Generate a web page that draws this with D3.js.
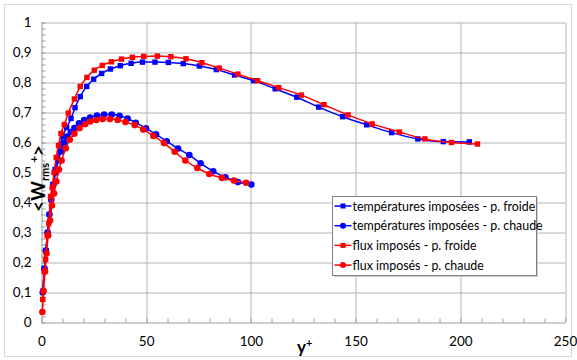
<!DOCTYPE html>
<html>
<head>
<meta charset="utf-8">
<script src="https://cdn.jsdelivr.net/npm/d3@7"></script>
<style>
  body { margin: 0; background: #fff; }
  text { font-family: Lato, "Open Sans", sans-serif; fill: #000; }
</style>
</head>
<body>
<div id="chart"></div>
<script>
// data: [y+, <Wrms+>]
const tempFroide = [[0.7,0.105],[1.4,0.18],[2.1,0.24],[2.9,0.30],[3.7,0.36],[4.6,0.41],[5.5,0.46],[6.5,0.51],[7.6,0.55],[8.8,0.59],[10.1,0.62],[12.0,0.65],[14.1,0.68],[16.0,0.716],[18.5,0.753],[21.6,0.787],[24.9,0.811],[28.7,0.830],[32.9,0.845],[37.6,0.856],[42.8,0.864],[48.2,0.868],[54.2,0.868],[60.6,0.867],[67.7,0.863],[75.4,0.855],[83.5,0.843],[92.2,0.825],[101.3,0.806],[111.6,0.779],[121.9,0.751],[132.4,0.718],[143.8,0.686],[155.3,0.659],[167.2,0.633],[179.7,0.612],[191.9,0.603],[204.3,0.602]];
const tempChaude = [[0.6,0.10],[1.4,0.18],[2.1,0.24],[2.9,0.30],[3.8,0.36],[4.7,0.41],[5.7,0.46],[6.8,0.50],[8.0,0.54],[9.3,0.57],[10.8,0.60],[12.3,0.62],[14.0,0.635],[15.7,0.648],[17.9,0.664],[20.4,0.675],[23.2,0.683],[26.5,0.690],[29.9,0.693],[33.6,0.693],[37.3,0.689],[41.1,0.680],[45.0,0.666],[49.9,0.647],[54.7,0.627],[59.8,0.604],[65.2,0.580],[70.6,0.558],[76.0,0.531],[82.0,0.504],[87.8,0.484],[93.8,0.468],[100.2,0.460]];
const fluxFroide = [[0.6,0.077],[1.3,0.17],[2.0,0.21],[2.7,0.29],[3.5,0.33],[4.3,0.42],[5.1,0.45],[6.0,0.50],[7.0,0.55],[8.1,0.59],[9.3,0.63],[10.9,0.66],[12.8,0.698],[15.7,0.745],[18.5,0.787],[21.7,0.817],[25.2,0.841],[29.0,0.857],[33.4,0.869],[38.2,0.878],[43.4,0.884],[48.8,0.887],[55.3,0.888],[61.8,0.886],[69.0,0.879],[76.6,0.866],[84.9,0.848],[93.8,0.828],[103.2,0.806],[113.3,0.783],[124.1,0.758],[134.9,0.726],[146.4,0.692],[157.9,0.662],[170.9,0.635],[183.1,0.612],[195.8,0.600],[208.2,0.595]];
const fluxChaude = [[0.4,0.035],[1.0,0.105],[1.7,0.17],[2.4,0.23],[3.2,0.29],[4.1,0.34],[5.0,0.39],[6.0,0.43],[7.1,0.47],[8.3,0.51],[9.6,0.54],[11.6,0.581],[13.5,0.609],[15.7,0.629],[18.2,0.648],[20.8,0.661],[23.3,0.670],[26.2,0.675],[29.2,0.678],[32.7,0.678],[36.4,0.675],[40.1,0.668],[44.5,0.658],[48.6,0.643],[53.4,0.622],[58.5,0.598],[63.6,0.569],[68.7,0.540],[74.4,0.515],[80.1,0.495],[86.2,0.482],[91.9,0.473],[97.7,0.466]];

const seriesNames = ["températures imposées - p. froide","températures imposées - p. chaude","flux imposés - p. froide","flux imposés - p. chaude"];
const seriesColors = ["#0000ff","#0000ff","#ff0000","#ff0000"];
const seriesMarkers = ["square","circle","square","circle"];
const seriesData = [tempFroide, tempChaude, fluxFroide, fluxChaude];

const xTicks = [0,50,100,150,200,250];
const yTicks = [0,0.1,0.2,0.3,0.4,0.5,0.6,0.7,0.8,0.9,1];

// dimensions
const W = 577, H = 360;
const margin = {top: 22.5, right: 12, bottom: 37.5, left: 41.5},
    width = W - margin.left - margin.right,
    height = H - margin.top - margin.bottom;

const svg0 = d3.select("#chart").append("svg")
    .attr("width", W).attr("height", H);

// outer chart border
svg0.append("rect").attr("x",4.5).attr("y",4.5).attr("width",W-10).attr("height",H-8)
  .attr("fill","none").attr("stroke","#d9d9d9");

const svg = svg0.append("g").attr("transform",`translate(${margin.left},${margin.top})`);

const x = d3.scaleLinear().domain([0,250]).range([0,width]);
const y = d3.scaleLinear().domain([0,1]).range([height,0]);

// grid
svg.append("g").selectAll("line").data(yTicks.slice(1)).join("line")
  .attr("x1",0).attr("x2",width)
  .attr("y1",d => Math.round(y(d))+0.5).attr("y2",d => Math.round(y(d))+0.5)
  .attr("stroke","#b4b4b4");
svg.append("g").selectAll("line").data(xTicks.slice(1)).join("line")
  .attr("x1",d => Math.round(x(d))+0.5).attr("x2",d => Math.round(x(d))+0.5)
  .attr("y1",0).attr("y2",height)
  .attr("stroke","#b4b4b4");

// axes
const xAxis = svg.append("g")
  .attr("transform",`translate(0,${height})`)
  .call(d3.axisBottom(x).tickValues(xTicks).tickSize(0).tickPadding(14).tickFormat(d3.format("d")));
xAxis.select(".domain").attr("stroke","#9a9a9a");
xAxis.selectAll("text").style("font-size","13.5px");
svg.append("g").selectAll("line").data(d3.range(0,251,10)).join("line")
  .attr("x1",d => Math.round(x(d))+0.5).attr("x2",d => Math.round(x(d))+0.5)
  .attr("y1",height).attr("y2",height-4).attr("stroke","#9a9a9a");

const yAxis = svg.append("g")
  .call(d3.axisLeft(y).tickValues(yTicks).tickSize(0).tickPadding(10)
    .tickFormat(d => d3.format(".1~f")(d).replace(".",",")));
yAxis.select(".domain").attr("stroke","#9a9a9a");
yAxis.selectAll("text").style("font-size","13.5px");
svg.append("g").selectAll("line").data(d3.range(0,51).map(i => i*0.02)).join("line")
  .attr("x1",0).attr("x2",4)
  .attr("y1",d => Math.round(y(d))+0.5).attr("y2",d => Math.round(y(d))+0.5)
  .attr("stroke","#9a9a9a");

// series
const line = d3.line().x(d => x(d[0])).y(d => y(d[1])).curve(d3.curveMonotoneX);
seriesData.forEach((data, i) => {
  const g = svg.append("g");
  g.append("path").datum(data).attr("d",line)
    .attr("fill","none").attr("stroke",seriesColors[i]).attr("stroke-width",1.5);
  if (seriesMarkers[i] === "square") {
    g.selectAll("rect").data(data).join("rect")
      .attr("x",d => x(d[0])-2.7).attr("y",d => y(d[1])-2.7)
      .attr("width",5.4).attr("height",5.4).attr("fill",seriesColors[i]);
  } else {
    g.selectAll("circle").data(data).join("circle")
      .attr("cx",d => x(d[0])).attr("cy",d => y(d[1])).attr("r",3.3)
      .attr("fill",seriesColors[i]);
  }
});

// axis titles
const yl = svg0.append("text").attr("transform","translate(45,212) rotate(-90)")
  .style("font-size","19px").style("font-weight","bold");
yl.append("tspan").text("<W");
yl.append("tspan").text("rms").style("font-size","11px").attr("dy",4);
yl.append("tspan").text("+").style("font-size","12px").attr("dy",-11);
yl.append("tspan").text(">").attr("dy",7);

const xl = svg0.append("text").attr("x",297).attr("y",353)
  .style("font-size","17px").style("font-weight","bold");
xl.append("tspan").text("y");
xl.append("tspan").text("+").style("font-size","11px").attr("dy",-6);

// legend
const lg = svg0.append("g").attr("transform","translate(332.5,196.5)");
lg.append("rect").attr("x",1.5).attr("y",1.5).attr("width",204).attr("height",79).attr("fill","#d0d0d0");
lg.append("rect").attr("width",204).attr("height",79).attr("fill","#fff").attr("stroke","#7f7f7f");
seriesNames.forEach((name, i) => {
  const cy = 9.5 + i*19.7;
  lg.append("line").attr("x1",2).attr("x2",19).attr("y1",cy).attr("y2",cy)
    .attr("stroke",seriesColors[i]).attr("stroke-width",1.5);
  if (seriesMarkers[i] === "square")
    lg.append("rect").attr("x",8).attr("y",cy-2.5).attr("width",5).attr("height",5).attr("fill",seriesColors[i]);
  else
    lg.append("circle").attr("cx",10.5).attr("cy",cy).attr("r",3).attr("fill",seriesColors[i]);
  lg.append("text").attr("x",20).attr("y",cy+4.5).text(name).style("font-size","12.4px");
});
</script>
</body>
</html>
